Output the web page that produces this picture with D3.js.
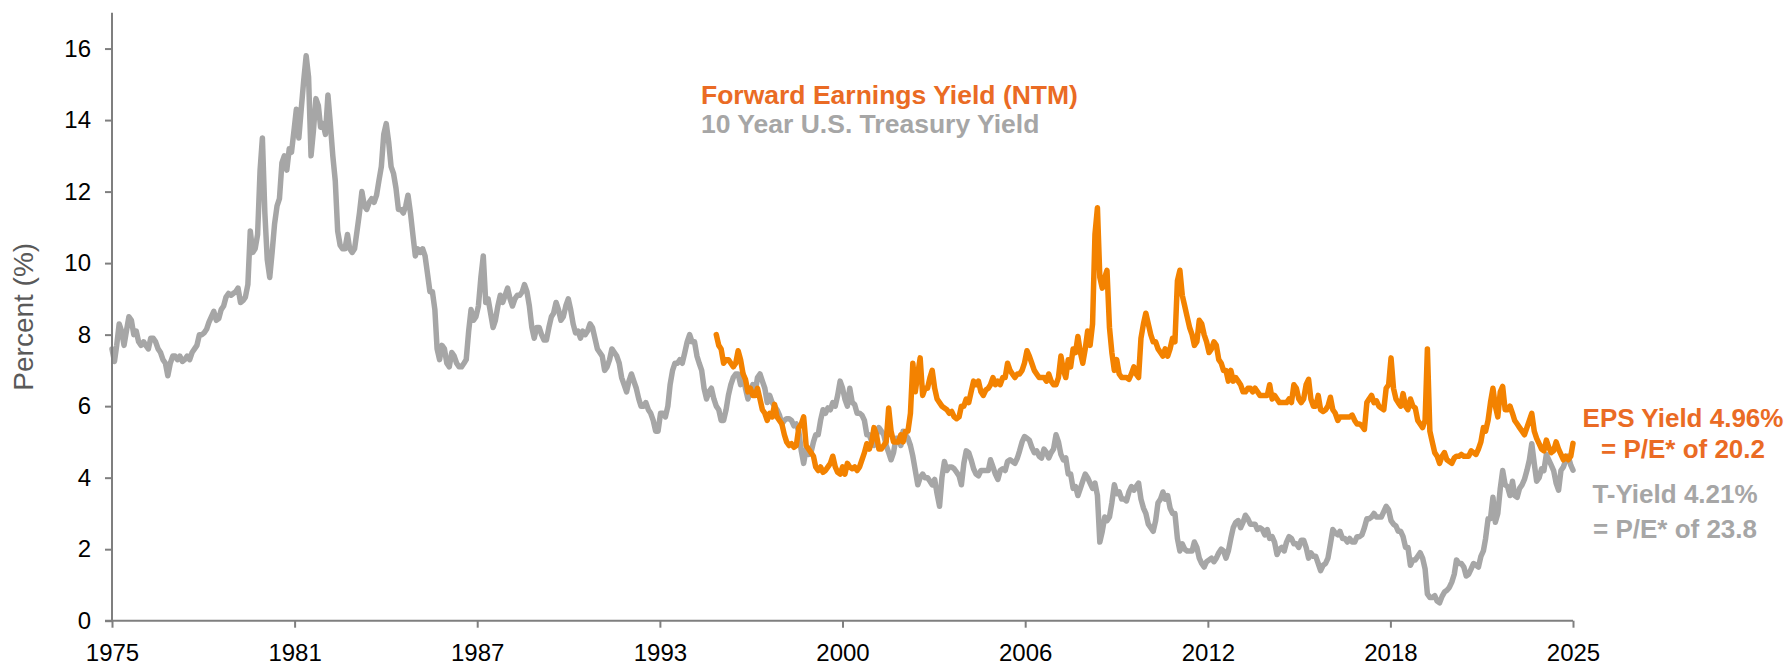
<!DOCTYPE html>
<html>
<head>
<meta charset="utf-8">
<script src="https://cdn.jsdelivr.net/npm/d3@7"></script>
<style>
  html, body { margin: 0; padding: 0; background: #ffffff; }
  svg { display: block; font-family: "Liberation Sans", Arial, sans-serif; }
</style>
</head>
<body>
<svg id="chart" width="1791" height="666"></svg>
<script>
// ---------------- DATA ----------------
// 10 Year U.S. Treasury Yield, monthly, starting January 1975 (%)
const treasuryStart = "1975-01-15";
const treasuryYield = [
  7.6, 7.25, 7.7, 8.3, 8.1, 7.7, 8.1, 8.5, 8.4, 8.0, 8.1, 7.8,
  7.7, 7.8, 7.7, 7.6, 7.9, 7.9, 7.8, 7.6, 7.5, 7.3, 7.2, 6.85,
  7.2, 7.4, 7.4, 7.3, 7.4, 7.25, 7.3, 7.4, 7.3, 7.5, 7.6, 7.7,
  8.0, 8.0, 8.05, 8.15, 8.35, 8.5, 8.65, 8.4, 8.45, 8.7, 8.8, 9.05,
  9.15, 9.1, 9.15, 9.2, 9.3, 8.9, 8.95, 9.05, 9.4, 10.9, 10.3, 10.4,
  10.8, 12.6, 13.5, 11.4, 10.1, 9.6, 10.3, 11.1, 11.6, 11.8, 12.8, 13.0,
  12.6, 13.2, 13.1, 13.7, 14.3, 13.5, 14.3, 15.1, 15.8, 15.2, 13.0, 13.7,
  14.6, 14.4, 13.8, 13.9, 13.6, 14.7, 13.9, 13.0, 12.3, 10.9, 10.5, 10.4,
  10.4, 10.8, 10.4, 10.3, 10.4, 10.9, 11.4, 12.0, 11.6, 11.5, 11.7, 11.8,
  11.7, 11.9, 12.3, 12.7, 13.6, 13.9, 13.4, 12.7, 12.5, 12.1, 11.5, 11.5,
  11.4, 11.6, 11.9, 11.4, 10.8, 10.2, 10.4, 10.3, 10.4, 10.2, 9.7, 9.2,
  9.2, 8.7, 7.6, 7.3, 7.7, 7.6, 7.2, 7.1, 7.5, 7.4, 7.2, 7.1,
  7.1, 7.2, 7.3, 8.1, 8.7, 8.4, 8.5, 8.8, 9.6, 10.2, 8.9, 9.0,
  8.6, 8.2, 8.4, 8.8, 9.1, 8.9, 9.1, 9.3, 9.0, 8.8, 9.0, 9.1,
  9.1, 9.2, 9.4, 9.2, 8.8, 8.2, 7.9, 8.2, 8.2, 8.0, 7.85, 7.85,
  8.2, 8.5, 8.6, 8.9, 8.7, 8.4, 8.5, 8.8, 9.0, 8.7, 8.3, 8.05,
  8.1, 7.9, 8.1, 8.0, 8.1, 8.3, 8.2, 7.9, 7.6, 7.5, 7.4, 7.0,
  7.1, 7.3, 7.6, 7.5, 7.4, 7.2, 6.8, 6.6, 6.4, 6.7, 6.9, 6.7,
  6.5, 6.2, 6.0, 6.0, 6.1, 5.9, 5.8, 5.6, 5.3, 5.3, 5.8, 5.8,
  5.7, 6.0, 6.6, 7.0, 7.2, 7.2, 7.3, 7.2, 7.5, 7.8, 8.0, 7.8,
  7.8, 7.4, 7.2, 7.0, 6.5, 6.2, 6.4, 6.5, 6.2, 6.0, 5.9, 5.6,
  5.6, 5.9, 6.3, 6.6, 6.8, 6.9, 6.9, 6.6, 6.9, 6.5, 6.2, 6.4,
  6.6, 6.4, 6.8, 6.9, 6.7, 6.5, 6.1, 6.3, 6.1, 6.0, 5.9, 5.75,
  5.5, 5.6, 5.65, 5.65, 5.6, 5.45, 5.5, 5.3, 4.75, 4.4, 4.8, 4.65,
  4.7, 5.0, 5.2, 5.2, 5.6, 5.9, 5.8, 5.95, 5.9, 6.1, 6.0, 6.3,
  6.7, 6.5, 6.2, 6.0, 6.5, 6.1, 6.05, 5.8, 5.8, 5.75, 5.6, 5.2,
  5.2, 5.0, 4.9, 5.2, 5.4, 5.3, 5.2, 4.9, 4.7, 4.5, 4.7, 5.1,
  5.1, 4.9, 5.3, 5.2, 5.1, 4.9, 4.6, 4.2, 3.8, 4.0, 4.1, 4.0,
  4.0, 3.9, 3.8, 3.95, 3.55, 3.2, 4.0, 4.45, 4.2, 4.3, 4.3, 4.25,
  4.15, 4.05, 3.8, 4.4, 4.75, 4.7, 4.5, 4.25, 4.1, 4.05, 4.2, 4.2,
  4.2, 4.2, 4.5, 4.3, 4.1, 3.95, 4.2, 4.25, 4.2, 4.45, 4.5, 4.45,
  4.4, 4.55, 4.75, 5.0, 5.15, 5.1, 5.05, 4.85, 4.7, 4.75, 4.6, 4.55,
  4.8, 4.7, 4.55, 4.7, 4.8, 5.2, 5.0, 4.65, 4.5, 4.55, 4.1, 4.1,
  3.7, 3.75, 3.5, 3.7, 3.9, 4.1, 4.0, 3.85, 3.7, 3.85, 3.5, 2.2,
  2.5, 2.9, 2.8, 2.9, 3.3, 3.8, 3.55, 3.6, 3.4, 3.4, 3.35, 3.6,
  3.75, 3.65, 3.75, 3.85, 3.4, 3.15, 3.0, 2.7, 2.6, 2.5, 2.8, 3.3,
  3.4, 3.6, 3.4, 3.5, 3.15, 3.0, 3.0, 2.3, 1.95, 2.15, 2.0, 1.95,
  1.95, 1.95, 2.2, 2.05, 1.75, 1.6, 1.5, 1.65, 1.7, 1.75, 1.65, 1.75,
  1.9, 2.0, 1.95, 1.75, 1.95, 2.3, 2.6, 2.75, 2.8, 2.6, 2.75, 2.95,
  2.85, 2.7, 2.7, 2.7, 2.55, 2.6, 2.55, 2.4, 2.55, 2.3, 2.35, 2.2,
  1.85, 2.0, 2.05, 1.95, 2.2, 2.35, 2.3, 2.15, 2.15, 2.05, 2.25, 2.25,
  2.05, 1.75, 1.9, 1.8, 1.8, 1.6, 1.4, 1.55, 1.6, 1.75, 2.15, 2.55,
  2.45, 2.4, 2.5, 2.3, 2.3, 2.2, 2.3, 2.2, 2.2, 2.35, 2.35, 2.4,
  2.6, 2.85, 2.85, 2.9, 3.0, 2.9, 2.9, 2.9, 3.05, 3.2, 3.1, 2.8,
  2.7, 2.65, 2.5, 2.5, 2.35, 2.05, 2.05, 1.55, 1.7, 1.7, 1.8, 1.9,
  1.75, 1.45, 0.75, 0.65, 0.65, 0.7, 0.55, 0.5, 0.68, 0.8, 0.85, 0.93,
  1.08, 1.3, 1.7, 1.6, 1.6, 1.5, 1.25, 1.3, 1.45, 1.6, 1.55, 1.5,
  1.8, 1.95, 2.3, 2.85, 2.85, 3.45, 2.75, 3.0, 3.7, 4.2, 3.8, 3.75,
  3.5, 3.9, 3.5, 3.45, 3.7, 3.8, 3.95, 4.2, 4.5, 4.95, 4.4, 3.9,
  4.0, 4.25, 4.2, 4.65, 4.5, 4.35, 4.2, 3.85, 3.65, 4.2, 4.3, 4.5,
  4.6, 4.35, 4.21
];

// Forward Earnings Yield (NTM), monthly, starting October 1995 (%)
const earningsStart = "1995-10-15";
const earningsYield = [
  8.0, 7.7, 7.6,
  7.2, 7.3, 7.3, 7.2, 7.1, 7.2, 7.55, 7.3, 6.9, 6.75, 6.4, 6.5,
  6.3, 6.3, 6.5, 6.2, 5.9, 5.8, 5.6, 5.8, 5.7, 6.05, 5.7, 5.6,
  5.5, 5.2, 5.0, 4.9, 4.95, 4.85, 4.9, 5.4, 5.5, 5.7, 4.9, 4.8,
  4.7, 4.6, 4.3, 4.2, 4.3, 4.15, 4.2, 4.3, 4.4, 4.6, 4.3, 4.15,
  4.1, 4.3, 4.1, 4.4, 4.3, 4.25, 4.3, 4.2, 4.3, 4.5, 4.7, 4.95,
  4.8, 5.0, 5.4, 5.2, 4.8, 4.8, 4.9, 5.0, 5.95, 5.3, 5.0, 5.0,
  5.0, 5.2, 5.0, 5.3, 5.3, 5.8, 7.2, 6.4, 6.9, 7.35, 6.3, 6.5,
  6.5, 6.8, 7.0, 6.5, 6.2, 6.1, 6.0, 5.95, 5.9, 5.8, 5.85, 5.7,
  5.65, 5.7, 6.0, 6.0, 6.2, 6.1, 6.4, 6.7, 6.6, 6.7, 6.4, 6.3,
  6.45, 6.5, 6.6, 6.8, 6.6, 6.7, 6.6, 6.8, 6.8, 7.2, 7.0, 6.9,
  6.8, 6.9, 6.9, 7.0, 7.2, 7.55, 7.4, 7.2, 7.0, 6.9, 6.8, 6.8,
  6.8, 6.7, 6.9, 6.7, 6.6, 6.6, 6.8, 7.4, 7.0, 6.8, 7.3, 7.1,
  7.6, 7.5, 7.95, 7.5, 7.2, 7.6, 8.1, 7.7, 8.3, 10.8, 11.55, 9.6,
  9.3, 9.6, 9.8, 8.2, 7.5, 7.0, 7.3, 6.9, 6.8, 6.8, 6.8, 6.75,
  6.9, 7.1, 6.9, 6.8, 7.9, 8.3, 8.6, 8.3, 8.0, 7.8, 7.8, 7.6,
  7.5, 7.4, 7.6, 7.4, 7.6, 7.9, 7.8, 9.5, 9.8, 9.1, 8.8, 8.5,
  8.2, 8.0, 7.7, 7.8, 8.4, 8.3, 8.0, 7.8, 7.5, 7.6, 7.8, 7.7,
  7.3, 7.2, 7.0, 7.0, 6.7, 7.0, 6.7, 6.8, 6.7, 6.6, 6.4, 6.4,
  6.5, 6.5, 6.4, 6.5, 6.4, 6.3, 6.3, 6.3, 6.3, 6.6, 6.2, 6.3,
  6.2, 6.1, 6.1, 6.1, 6.1, 6.2, 6.1, 6.6, 6.5, 6.2, 6.1, 6.2,
  6.6, 6.75, 6.2, 6.0, 6.0, 6.3, 5.9, 5.85, 5.9, 6.0, 6.25, 5.9,
  5.8, 5.6, 5.7, 5.7, 5.7, 5.7, 5.7, 5.75, 5.6, 5.5, 5.5, 5.45,
  5.35, 6.1, 6.2, 6.3, 6.1, 6.15, 6.0, 5.95, 5.9, 6.5, 6.6, 7.35,
  6.5, 6.2, 6.1, 6.0, 6.35, 6.0, 5.9, 6.2, 6.0, 5.95, 5.6, 5.5,
  5.4, 5.6, 7.6, 5.3, 5.0, 4.7, 4.6, 4.4, 4.6, 4.7, 4.5, 4.45,
  4.4, 4.55, 4.6, 4.6, 4.65, 4.6, 4.6, 4.6, 4.75, 4.7, 4.65, 4.8,
  5.0, 5.4, 5.3, 5.6, 6.1, 6.5, 6.0, 5.7, 6.4, 6.55, 5.9, 5.9,
  6.0, 5.8, 5.6, 5.5, 5.4, 5.3, 5.2, 5.4, 5.6, 5.8, 5.3, 5.1,
  4.95, 4.8, 4.75, 5.05, 4.85, 4.7, 4.75, 5.0, 4.8, 4.65, 4.5, 4.6,
  4.5, 4.6, 4.96
];

// Axis ticks (evenly spaced category ticks) and labels
const yTicks = [0, 2, 4, 6, 8, 10, 12, 14, 16];
const xTickDates = ["1975-01-15", "1981-04-23", "1987-07-31", "1993-11-07",
                    "2000-02-14", "2006-05-24", "2012-08-31", "2018-12-07", "2025-03-15"];
const seriesNames = ["Forward Earnings Yield (NTM)", "10 Year U.S. Treasury Yield"];
const annotationEPS = ["EPS Yield 4.96%", "= P/E* of 20.2"];
const annotationT = ["T-Yield 4.21%", "= P/E* of 23.8"];
const yAxisTitle = "Percent (%)";

// ---------------- DRAW ----------------
const parse = d3.timeParse("%Y-%m-%d");
function monthly(startStr, values) {
  const s = parse(startStr);
  return values.map((v, i) => ({ date: new Date(s.getFullYear(), s.getMonth() + i, 15), value: v }));
}
const tsy = monthly(treasuryStart, treasuryYield);
const eps = monthly(earningsStart, earningsYield);

const orangeLine = "#F38200";
const orangeText = "#EA6B24";
const grayLine = "#A6A6A6";
const grayText = "#A6A6A6";
const axisColor = "#7F7F7F";

const svg = d3.select("#chart");
const plotLeft = 112, plotRight = 1573, plotTop = 12.8, plotBottom = 620.7;

const x = d3.scaleTime()
  .domain([parse(xTickDates[0]), parse(xTickDates[xTickDates.length - 1])])
  .range([plotLeft, plotRight]);
const y = d3.scaleLinear().domain([0, 17]).range([plotBottom, plotTop]);

const line = d3.line().x(d => x(d.date)).y(d => y(d.value)).curve(d3.curveLinear);

// lines
svg.append("path").datum(tsy)
  .attr("d", line).attr("fill", "none")
  .attr("stroke", grayLine).attr("stroke-width", 5.5)
  .attr("stroke-linejoin", "round").attr("stroke-linecap", "round");
svg.append("path").datum(eps)
  .attr("d", line).attr("fill", "none")
  .attr("stroke", orangeLine).attr("stroke-width", 5.5)
  .attr("stroke-linejoin", "round").attr("stroke-linecap", "round");

// y axis
const yAxis = d3.axisLeft(y).tickValues(yTicks).tickSize(7).tickPadding(14).tickFormat(d3.format("d"));
const gy = svg.append("g").attr("transform", `translate(${plotLeft},0)`).call(yAxis);
gy.select(".domain").attr("d", `M0,${plotTop}V${plotBottom}`).attr("stroke", axisColor).attr("stroke-width", 2);
gy.selectAll(".tick line").attr("stroke", axisColor).attr("stroke-width", 2);
gy.selectAll(".tick text").attr("font-size", 24).attr("fill", "#000").attr("font-family", "Liberation Sans, Arial, sans-serif");

// x axis
const xAxis = d3.axisBottom(x).tickValues(xTickDates.map(parse)).tickSize(7).tickPadding(16)
  .tickFormat(d3.timeFormat("%Y"));
const gx = svg.append("g").attr("transform", `translate(0,${plotBottom})`).call(xAxis);
gx.select(".domain").attr("d", `M${plotLeft - 7},0H${plotRight}`).attr("stroke", axisColor).attr("stroke-width", 2);
gx.selectAll(".tick line").attr("stroke", axisColor).attr("stroke-width", 2);
gx.selectAll(".tick text").attr("font-size", 24).attr("fill", "#000").attr("font-family", "Liberation Sans, Arial, sans-serif");

// y axis title
svg.append("text")
  .attr("transform", `translate(33,${(plotTop + plotBottom) / 2}) rotate(-90)`)
  .attr("text-anchor", "middle")
  .attr("font-size", 28).attr("fill", "#595959")
  .text(yAxisTitle);

// legend
svg.append("text").attr("x", 701).attr("y", 103.5)
  .attr("font-size", 26.5).attr("font-weight", "bold").attr("fill", orangeText)
  .text(seriesNames[0]);
svg.append("text").attr("x", 701).attr("y", 133)
  .attr("font-size", 26.5).attr("font-weight", "bold").attr("fill", grayText)
  .text(seriesNames[1]);

// annotations
svg.append("text").attr("x", 1683).attr("y", 427).attr("text-anchor", "middle")
  .attr("font-size", 26).attr("font-weight", "bold").attr("fill", orangeText).text(annotationEPS[0]);
svg.append("text").attr("x", 1683).attr("y", 458).attr("text-anchor", "middle")
  .attr("font-size", 26).attr("font-weight", "bold").attr("fill", orangeText).text(annotationEPS[1]);
svg.append("text").attr("x", 1675).attr("y", 503).attr("text-anchor", "middle")
  .attr("font-size", 26).attr("font-weight", "bold").attr("fill", grayText).text(annotationT[0]);
svg.append("text").attr("x", 1675).attr("y", 538).attr("text-anchor", "middle")
  .attr("font-size", 26).attr("font-weight", "bold").attr("fill", grayText).text(annotationT[1]);
</script>
</body>
</html>
